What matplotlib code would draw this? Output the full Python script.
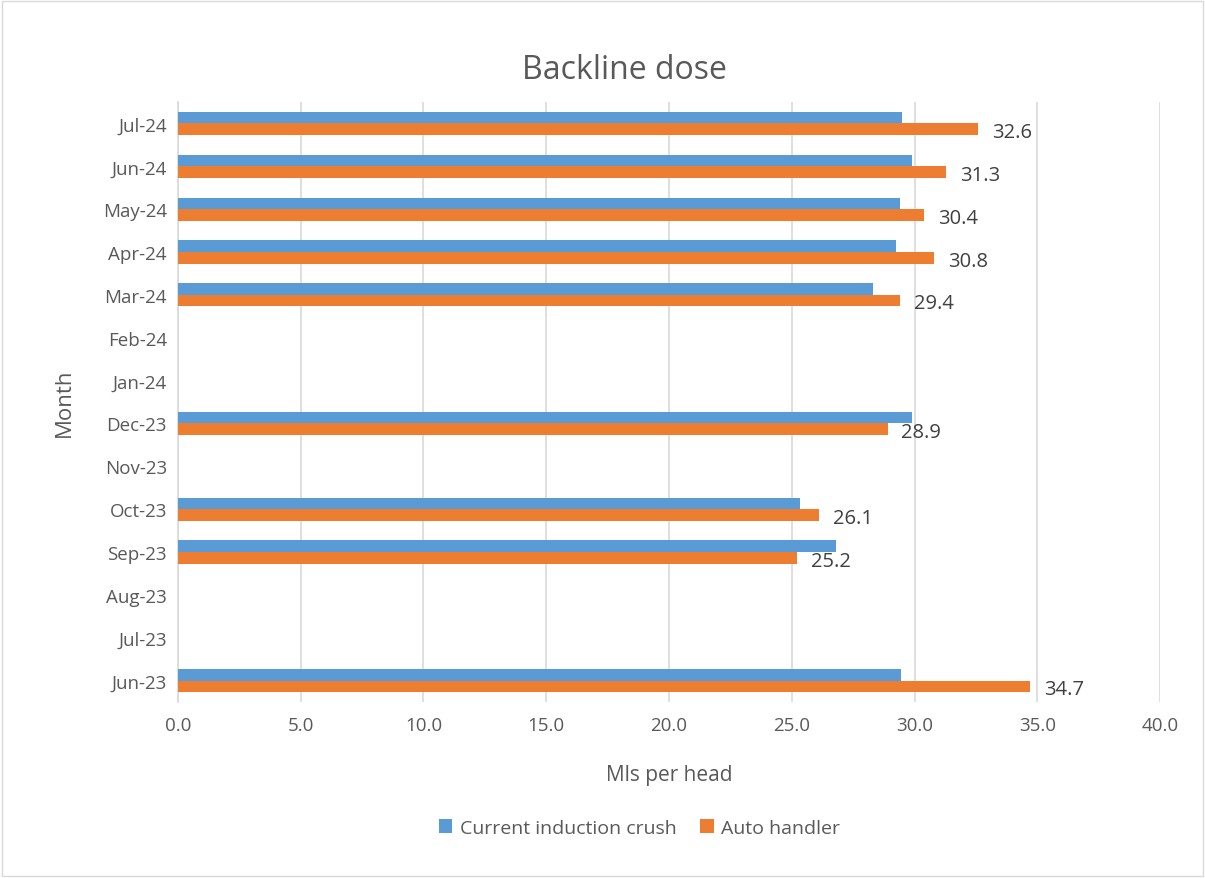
import matplotlib.pyplot as plt
import numpy as np

months = ["Jun-23", "Jul-23", "Aug-23", "Sep-23", "Oct-23", "Nov-23", "Dec-23",
          "Jan-24", "Feb-24", "Mar-24", "Apr-24", "May-24", "Jun-24", "Jul-24"]
crush = [29.45, np.nan, np.nan, 26.8, 25.35, np.nan, 29.9,
         np.nan, np.nan, 28.3, 29.25, 29.4, 29.9, 29.5]
handler = [34.7, np.nan, np.nan, 25.2, 26.1, np.nan, 28.9,
           np.nan, np.nan, 29.4, 30.8, 30.4, 31.3, 32.6]

plt.rcParams['font.family'] = ['Open Sans', 'DejaVu Sans']
txt = "#595959"

fig = plt.figure(figsize=(12.05, 8.79), dpi=100)
ax = fig.add_axes([0.1477, 0.2002, 0.815, 0.6826])

y = np.arange(len(months))
h = 0.27
ax.barh(y + h / 2, crush, height=h, color="#5B9BD5", label="Current induction crush", zorder=3)
ax.barh(y - h / 2, handler, height=h, color="#ED7D31", label="Auto handler", zorder=3)

# value labels only on the auto handler series
for yi, v in zip(y, handler):
    if not np.isnan(v):
        ax.annotate("%.1f" % v, (v, yi - h / 2), xytext=(10, -2), textcoords="offset points",
                    va="center", ha="left", fontsize=14.5, color="#404040")

ax.set_xlim(0, 40)
ax.set_ylim(-0.5, len(months) - 0.5)
ax.set_xticks(np.arange(0, 41, 5))
ax.set_xticklabels(["%.1f" % t for t in np.arange(0, 41, 5)])
ax.set_yticks(y)
ax.set_yticklabels(months)
ax.tick_params(axis="both", length=0, labelsize=13.5, labelcolor=txt)
ax.tick_params(axis="x", pad=10)
ax.tick_params(axis="y", pad=8)
ax.grid(axis="x", color="#D9D9D9", linewidth=1.2, zorder=0)
for s in ["top", "right", "bottom"]:
    ax.spines[s].set_visible(False)
ax.spines["left"].set_color("#D9D9D9")
ax.spines["left"].set_linewidth(1.2)

fig.text(0.518, 0.92, "Backline dose", fontsize=23, color=txt, ha="center", va="center")
ax.set_xlabel("Mls per head", fontsize=15, color=txt, labelpad=22)
ax.set_ylabel("Month", fontsize=16, color=txt, labelpad=20)

ax.legend(loc="upper center", bbox_to_anchor=(0.47, -0.165), ncol=2, frameon=False,
          fontsize=14, labelcolor=txt, handlelength=0.7, handleheight=0.7, columnspacing=1.2,
          handletextpad=0.4)

border = plt.Rectangle((0.002, 0.002), 0.996, 0.996, transform=fig.transFigure,
                       fill=False, edgecolor="#D9D9D9", linewidth=1)
fig.patches.append(border)

fig.savefig("out.png", dpi=100)
